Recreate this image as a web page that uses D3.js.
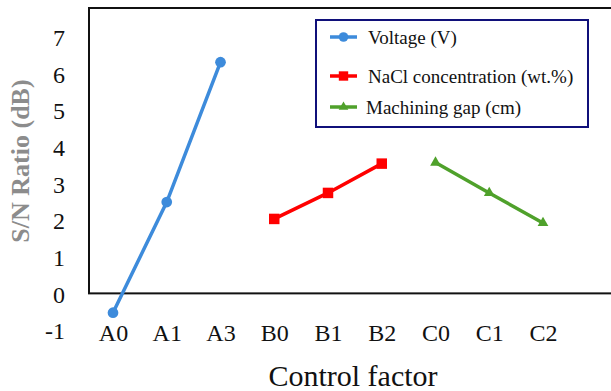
<!DOCTYPE html>
<html><head><meta charset="utf-8">
<script src="https://cdn.jsdelivr.net/npm/d3@7"></script>
<style>svg text, svg .tick text { font-family: "Liberation Serif" !important; }</style>
</head><body style="margin:0;background:#fff">
<svg id="c" width="611" height="391" style="display:block"></svg>
<script>
const categories = ["A0","A1","A3","B0","B1","B2","C0","C1","C2"];
const voltageCats = ["A0","A1","A3"];
const voltageVals = [-0.5, 2.52, 6.34];
const naclCats = ["B0","B1","B2"];
const naclVals = [2.06, 2.77, 3.57];
const gapCats = ["C0","C1","C2"];
const gapVals = [3.6, 2.77, 1.95];
const yTicks = [-1,0,1,2,3,4,5,6,7];
const seriesNames = ["Voltage (V)","NaCl concentration (wt.%)","Machining gap (cm)"];

const FF = "Liberation Serif";
const svg = d3.select("#c");
const x = d3.scalePoint().domain(categories).range([113, 543]);
const y = d3.scaleLinear().domain([-1, 7]).range([331, 38]);

// plot box
svg.append("rect").attr("x",89).attr("y",8).attr("width",530).attr("height",y(0)-8-1)
  .attr("fill","none").attr("stroke","#111").attr("stroke-width",2);

// y axis labels
const ya = svg.append("g").attr("transform","translate(65,0)")
  .call(d3.axisLeft(y).tickValues(yTicks).tickSize(0).tickPadding(0).tickFormat(d=>String(d)));
ya.attr("font-family",FF);
ya.select(".domain").remove();
ya.selectAll("text").attr("font-size",24).attr("fill","#111").attr("font-family",FF);

// x axis labels
const xa = svg.append("g").attr("transform","translate(0,324)")
  .call(d3.axisBottom(x).tickSize(0).tickPadding(0));
xa.attr("font-family",FF);
xa.select(".domain").remove();
xa.selectAll("text").attr("font-size",24).attr("fill","#111").attr("font-family",FF);

// titles
svg.append("text").attr("x",353).attr("y",386).attr("text-anchor","middle")
  .attr("font-size",30).attr("fill","#111").attr("font-family",FF).text("Control factor");
svg.append("text").attr("transform","translate(29,161) rotate(-90)").attr("text-anchor","middle")
  .attr("font-size",26).attr("font-weight","bold").attr("fill","#8c8c8c").attr("font-family",FF).text("S/N Ratio (dB)");

const series = [
  {cats: voltageCats, vals: voltageVals, color:"#3d8bdb", sym: d3.symbolCircle, size: 90},
  {cats: naclCats, vals: naclVals, color:"#ff0000", sym: d3.symbolSquare, size: 110},
  {cats: gapCats, vals: gapVals, color:"#4fa12b", sym: d3.symbolTriangle, size: 50}
];
const line = d3.line().x(d=>x(d[0])).y(d=>y(d[1]));
series.forEach(s=>{
  const pts = s.cats.map((c,i)=>[c, s.vals[i]]);
  svg.append("path").datum(pts).attr("d",line).attr("fill","none")
    .attr("stroke",s.color).attr("stroke-width",3.5);
  svg.selectAll(null).data(pts).enter().append("path")
    .attr("transform",d=>`translate(${x(d[0])},${y(d[1])})`)
    .attr("d",d3.symbol().type(s.sym).size(s.size)).attr("fill",s.color);
});

// legend
const lg = svg.append("g");
lg.append("rect").attr("x",316).attr("y",20).attr("width",272).attr("height",107)
  .attr("fill","#fff").attr("stroke","#10107a").attr("stroke-width",2);
const ly = [37, 76, 107];
series.forEach((s,i)=>{
  lg.append("line").attr("x1",330).attr("x2",357).attr("y1",ly[i]).attr("y2",ly[i])
    .attr("stroke",s.color).attr("stroke-width",3.5);
  lg.append("path").attr("transform",`translate(343.5,${ly[i]})`)
    .attr("d",d3.symbol().type(s.sym).size(s.size*0.8)).attr("fill",s.color);
  lg.append("text").attr("x",i===2?366:368).attr("y",ly[i]).attr("dy","0.35em")
    .attr("font-size",19).attr("fill","#111").attr("font-family",FF).text(seriesNames[i]);
});
</script></body></html>
